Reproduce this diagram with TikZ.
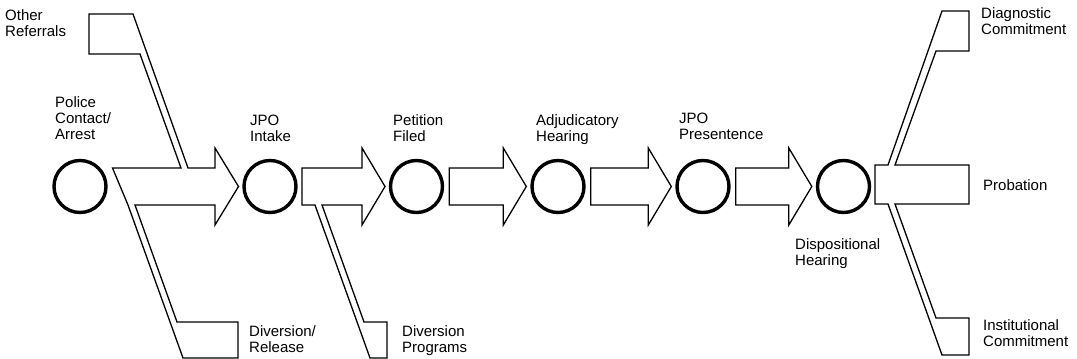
\documentclass[tikz,border=0pt]{standalone}
\usepackage{fontspec}
\setmainfont{Liberation Sans}
\usetikzlibrary{calc}
\tikzset{
    % stage circles
    stage/.style={circle, draw, line width=3.4pt, minimum size=52pt, inner sep=0pt},
    % texts beside the shapes (placed at the baseline of the last line)
    caption/.style={font=\fontsize{15}{16}\selectfont, align=left, inner sep=0pt, anchor=base west},
    % outlines of the fat arrows
    flow/.style={draw, line width=1.3pt, line join=miter},
}
% fat arrow from one stage to the next
\newcommand{\fatarrow}[2]{%
  \draw[flow] let \p1=(#1.east), \p2=(#2.west) in
    (\x1+5pt,\y1+18.5pt) -- (\x2-27pt,\y1+18.5pt) -- (\x2-27pt,\y1+38.5pt)
    -- (\x2-4pt,\y1) -- (\x2-27pt,\y1-38.5pt) -- (\x2-27pt,\y1-18.5pt)
    -- (\x1+5pt,\y1-18.5pt) -- cycle;}

\begin{document}
\begin{tikzpicture}[x=1pt, y=-1pt]
    \useasboundingbox (0,0) rectangle (1077,359);

    % Stages
    \node[stage] (police) at (80,186.5) {};
    \node[stage] (intake) at (270,186.5) {};
    \node[stage] (petition) at (416.5,186.5) {};
    \node[stage] (adjud) at (558,186.5) {};
    \node[stage] (present) at (703,186.5) {};
    \node[stage] (dispo) at (843.5,186.5) {};

    % Police -> Intake, with referrals in and diversion out
    \draw[flow] (112.5,168) -- (181,168) -- (140,54) -- (89,54) -- (89,14) -- (133,14)
        -- (188,168) -- (215,168) -- (215,148) -- (238.5,186.5) -- (215,225) -- (215,205)
        -- (135,205) -- (177,322) -- (238,322) -- (238,358) -- (183,358) -- (128,205) -- cycle;

    % Intake -> Petition, with diversion programs out
    \draw[flow] (302,168) -- (362,168) -- (362,148) -- (385,186.5) -- (362,225) -- (362,205)
        -- (322,205) -- (364,322) -- (387,322) -- (387,358) -- (370,358) -- (315,205)
        -- (302,205) -- cycle;

    \fatarrow{petition}{adjud}
    \fatarrow{adjud}{present}
    \fatarrow{present}{dispo}

    % Disposition outcomes
    \draw[flow] (875,165) -- (888,165) -- (942,11) -- (969,11) -- (969,51) -- (936,51)
        -- (895,165) -- (969,165) -- (969,204) -- (895,204) -- (936,318) -- (969,318)
        -- (969,355) -- (942,355) -- (888,204) -- (875,204) -- cycle;

    % Labels
    \node[caption] (lother) at (5,36) {Other\\Referrals};
    \node[caption] (lpolice) at (55,139) {Police\\Contact/\\Arrest};
    \node[caption] (lintake) at (250,141) {JPO\\Intake};
    \node[caption] (lpetition) at (393,141) {Petition\\Filed};
    \node[caption] (ladjud) at (536,141) {Adjudicatory\\Hearing};
    \node[caption] (lpresent) at (679,139) {JPO\\Presentence};
    \node[caption] (ldispo) at (795,265) {Dispositional\\Hearing};
    \node[caption] (lrelease) at (249,352) {Diversion/\\Release};
    \node[caption] (lprograms) at (402,352) {Diversion\\Programs};
    \node[caption] (ldiag) at (981,34) {Diagnostic\\Commitment};
    \node[caption] (lprob) at (983,190) {Probation};
    \node[caption] (linst) at (983,346) {Institutional\\Commitment};
\end{tikzpicture}
\end{document}
